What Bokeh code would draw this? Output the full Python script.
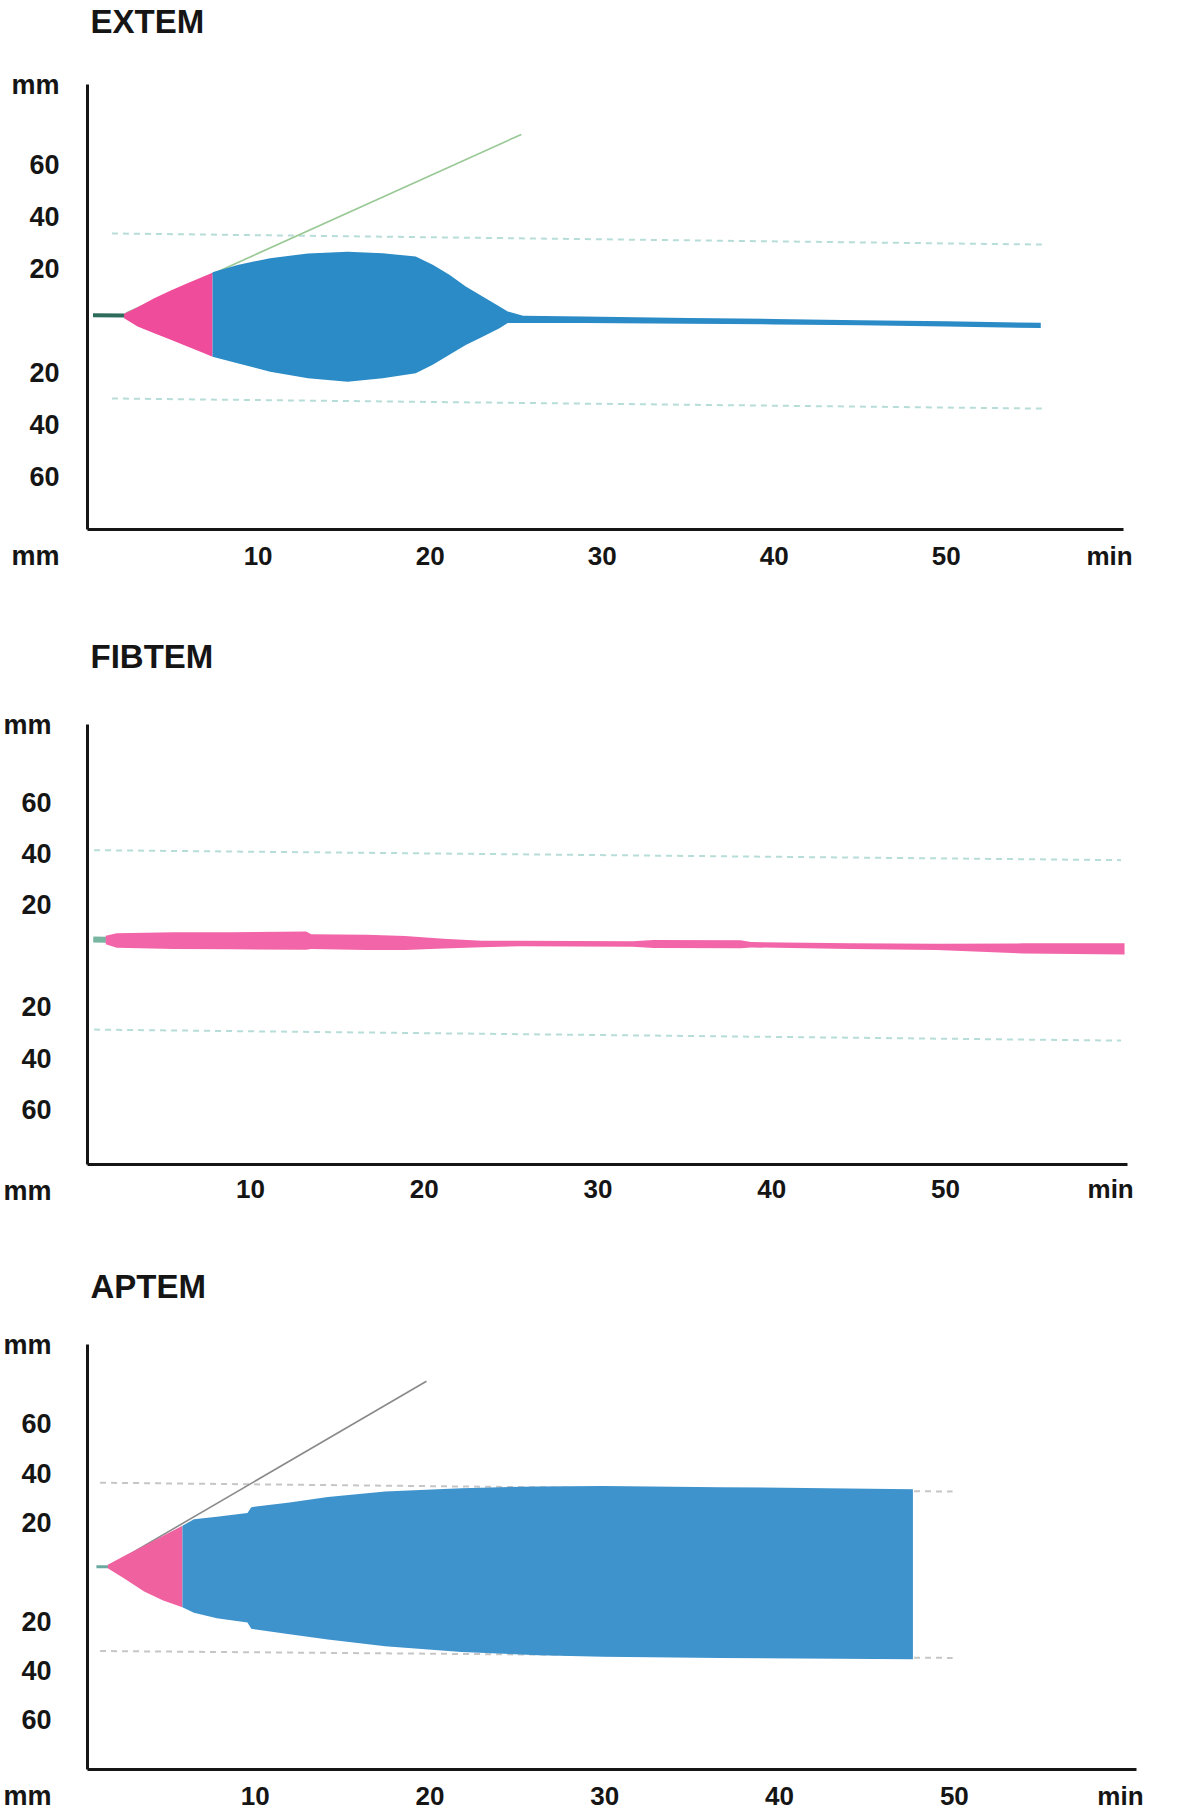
from bokeh.plotting import figure
from bokeh.models import Range1d, FixedTicker, LinearAxis
from bokeh.layouts import column
from bokeh.embed import file_html
from bokeh.resources import INLINE

FONT = "Liberation Sans"
INK = "#151515"

# ---------------- shared axis data ----------------
x_ticks = [10, 20, 30, 40, 50, 59.5]
x_tick_labels = ["10", "20", "30", "40", "50", "min"]
y_ticks = [-60, -40, -20, 20, 40, 60]
y_tick_labels = ["60", "40", "20", "20", "40", "60"]
y_unit_label = "mm"

# ---------------- EXTEM ----------------
extem_pre_t = [0.4, 2.25]
extem_pre_y = [2.2, 2.1]
extem_pink_t = [2.21, 2.99, 3.96, 4.92, 5.89, 6.86, 7.35]
extem_pink_top = [2.8, 5.3, 8.8, 11.7, 14.5, 17.2, 18.6]
extem_pink_bot = [1.1, -2.1, -4.7, -7.2, -9.8, -12.4, -13.7]
extem_blue_t = [7.35, 8.8, 10.7, 12.9, 15.2, 17.24, 19.16, 20.15, 21.12, 22.07, 23.05, 24.03,
                24.51, 25.4, 28.9, 35.0, 40.0, 45.0, 50.0, 55.5]
extem_blue_top = [18.8, 21.6, 24.2, 26.0, 26.7, 26.1, 24.8, 21.7, 17.8, 13.3, 9.4, 5.6,
                  3.7, 2.0, 1.7, 1.2, 0.8, 0.35, -0.1, -0.7]
extem_blue_bot = [-13.7, -16.2, -19.5, -22.0, -23.4, -22.0, -20.1, -16.8, -13.0, -9.2, -6.0, -2.8,
                  -0.8, -0.8, -0.8, -1.0, -1.3, -1.65, -2.1, -2.7]
extem_ref_t = [1.5, 55.8]
extem_ref_upper = [33.7, 29.4]
extem_ref_lower = [-29.8, -33.7]
extem_tan_t = [2.3, 25.3]
extem_tan_y = [3.0, 71.8]

# ---------------- FIBTEM ----------------
fib_pre_t = [0.95, 1.7]
fib_pre_y = [6.5, 6.4]
fib_t = [1.67, 2.3, 5.6, 8.9, 13.2, 13.5, 16.7, 18.9, 21.1, 23.3, 25.5, 32.0, 33.2,
         38.2, 38.8, 44.5, 49.5, 54.5, 60.3]
fib_top = [8.0, 8.9, 9.3, 9.3, 9.6, 8.6, 8.4, 7.9, 6.8, 6.0, 6.0, 5.8, 6.3,
           6.2, 5.5, 5.0, 4.8, 5.0, 5.0]
fib_bot = [4.6, 3.3, 2.8, 2.7, 2.5, 2.8, 2.4, 2.4, 3.0, 3.5, 3.9, 3.7, 3.2,
           3.1, 3.4, 2.8, 2.4, 1.0, 0.6]
fib_ref_t = [1.0, 60.1]
fib_ref_upper = [41.4, 37.5]
fib_ref_lower = [-28.7, -33.0]

# ---------------- APTEM ----------------
apt_pre_t = [0.92, 1.6]
apt_pre_y = [2.3, 2.3]
apt_pink_t = [1.57, 2.56, 3.65, 4.74, 5.84]
apt_pink_top = [3.1, 6.8, 10.8, 14.8, 18.9]
apt_pink_bot = [1.6, -2.7, -7.8, -11.4, -14.2]
apt_blue_t = [5.84, 6.5, 7.81, 9.56, 9.78, 11.97, 14.16, 17.44, 21.8, 26.2, 29.9, 36.6, 47.63]
apt_blue_top = [18.9, 21.5, 22.5, 24.0, 26.4, 28.3, 30.5, 32.7, 34.1, 34.8, 35.0, 34.5, 33.7]
apt_blue_bot = [-14.2, -16.4, -18.6, -20.3, -22.9, -25.1, -27.2, -30.0, -32.3, -33.6, -34.2, -34.7, -35.2]
apt_ref_t = [1.13, 49.9]
apt_ref_upper = [36.3, 32.7]
apt_ref_lower = [-31.9, -34.7]
apt_tan_t = [1.9, 19.8]
apt_tan_y = [3.5, 77.4]


def make_panel(title, fw, fh, xr, yr, right, top, bottom, spacer,
               y_standoff, x_standoff):
    p = figure(frame_width=fw, frame_height=fh,
               x_range=Range1d(*xr), y_range=Range1d(*yr),
               output_backend="svg", toolbar_location=None,
               min_border_left=85, min_border_right=right,
               min_border_top=top, min_border_bottom=bottom,
               title=title)
    p.title.text_font = FONT
    p.title.text_font_size = "33px"
    p.title.text_font_style = "bold"
    p.title.text_color = INK
    p.title.standoff = 0
    p.title.offset = 3
    p.outline_line_color = None
    p.grid.visible = False
    p.background_fill_color = "white"
    p.border_fill_color = "white"

    xa = p.below[0]
    ya = p.left[0]

    # invisible spacer axis between title and frame (lifts the title to the top)
    mid = 0.5 * (xr[0] + xr[1])
    sp = LinearAxis(ticker=FixedTicker(ticks=[mid]), axis_line_color=None,
                    major_tick_out=spacer, major_tick_in=0,
                    major_tick_line_color=None, minor_tick_line_color=None,
                    major_label_standoff=0, major_label_overrides={mid: ""})
    p.add_layout(sp, "above")

    for ax in (xa, ya):
        ax.axis_line_width = 3
        ax.axis_line_color = INK
        ax.major_tick_line_color = None
        ax.minor_tick_line_color = None
        ax.major_label_text_font = FONT
        ax.major_label_text_font_style = "bold"
        ax.major_label_text_color = INK
    xa.ticker = FixedTicker(ticks=x_ticks)
    xa.major_label_overrides = dict(zip(x_ticks, x_tick_labels))
    xa.major_label_text_font_size = "26px"
    xa.major_label_standoff = x_standoff

    y_top = round(yr[1] - 0.02, 2)
    y_bot = round(yr[0] + 0.02, 2)
    yt = [y_bot] + y_ticks + [y_top]
    yl = ["\n\n" + y_unit_label] + y_tick_labels + [y_unit_label]
    ya.ticker = FixedTicker(ticks=yt)
    ya.major_label_overrides = dict(zip(yt, yl))
    ya.major_label_text_font_size = "27px"
    ya.major_label_text_line_height = 0.9
    ya.major_tick_out = 0
    ya.major_tick_in = 0
    ya.major_label_standoff = y_standoff
    return p


# EXTEM
p1 = make_panel("EXTEM", 1036, 445, (0.08, 60.31), (-80.2, 91.0), 40, 83, 70, 45, 28, 5)
p1.line(extem_ref_t, extem_ref_upper, line_color="#b7ddd8", line_width=2, line_dash="6 5")
p1.line(extem_ref_t, extem_ref_lower, line_color="#b7ddd8", line_width=2, line_dash="6 5")
p1.line(extem_tan_t, extem_tan_y, line_color="#98c894", line_width=1.6)
p1.line(extem_pre_t, extem_pre_y, line_color="#2d6b5a", line_width=4)
p1.varea(x=extem_pink_t, y1=extem_pink_bot, y2=extem_pink_top, fill_color="#ef4d9b")
p1.varea(x=extem_blue_t, y1=extem_blue_bot, y2=extem_blue_top, fill_color="#2b8bc6")

# FIBTEM
p2 = make_panel("FIBTEM", 1040, 440, (0.62, 60.47), (-81.4, 90.5), 40, 125, 67, 50, 36, 3)
p2.line(fib_ref_t, fib_ref_upper, line_color="#b7ddd8", line_width=2, line_dash="6 5")
p2.line(fib_ref_t, fib_ref_lower, line_color="#b7ddd8", line_width=2, line_dash="6 5")
p2.line(fib_pre_t, fib_pre_y, line_color="#79b6a2", line_width=6)
p2.varea(x=fib_t, y1=fib_bot, y2=fib_top, fill_color="#f265a8")

# APTEM
p3 = make_panel("APTEM", 1049, 425, (0.41, 60.42), (-79.9, 92.3), 30, 113, 30, 40, 36, 5)
p3.line(apt_ref_t, apt_ref_upper, line_color="#c6c6c6", line_width=2, line_dash="6 5")
p3.line(apt_ref_t, apt_ref_lower, line_color="#c6c6c6", line_width=2, line_dash="6 5")
p3.line(apt_tan_t, apt_tan_y, line_color="#8a8a8a", line_width=1.6)
p3.line(apt_pre_t, apt_pre_y, line_color="#6aa9a0", line_width=3)
p3.varea(x=apt_pink_t, y1=apt_pink_bot, y2=apt_pink_top, fill_color="#f0619f")
p3.varea(x=apt_blue_t, y1=apt_blue_bot, y2=apt_blue_top, fill_color="#3f93cc")

layout = column(p1, p2, p3)
open("out.html", "w").write(file_html(layout, INLINE))
